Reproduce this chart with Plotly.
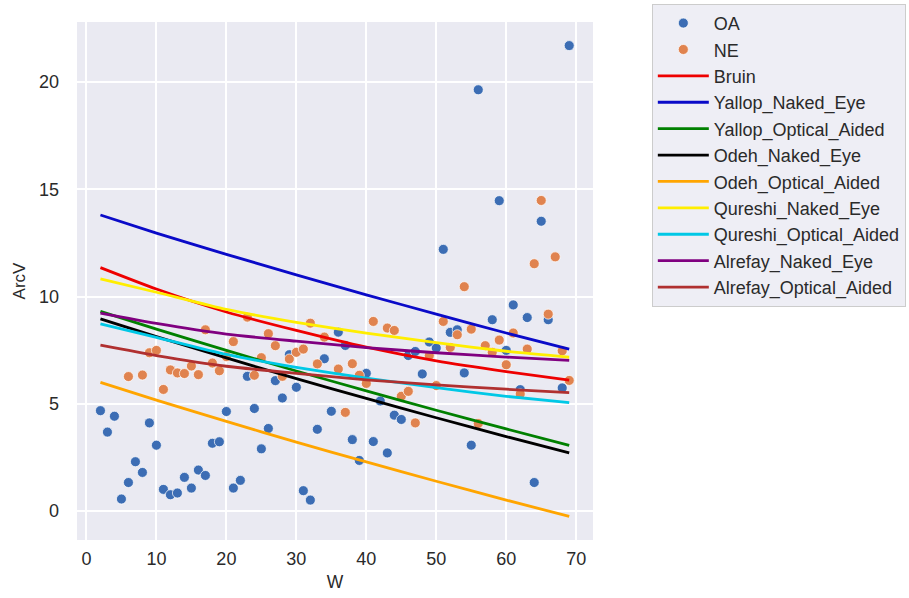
import plotly.graph_objects as go

# ---- scatter data (W, ArcV) ----
oa_w = [2, 3, 4, 5, 6, 7, 8, 9, 10, 11,
        12, 13, 14, 15, 16, 17, 18, 19, 20, 21,
        22, 23, 24, 25, 26, 27, 28, 29, 30, 31,
        32, 33, 34, 35, 36, 37, 38, 39, 40, 41,
        42, 43, 44, 45, 46, 47, 48, 49, 50, 51,
        52, 53, 54, 55, 56, 58, 59, 60, 61, 62,
        63, 64, 65, 66, 68, 69]
oa_arcv = [4.68, 3.68, 4.42, 0.56, 1.33, 2.30, 1.80, 4.11, 3.07, 1.01,
           0.76, 0.84, 1.57, 1.07, 1.91, 1.66, 3.16, 3.23, 4.64, 1.07,
           1.43, 6.28, 4.78, 2.90, 3.85, 6.08, 5.27, 7.29, 5.77, 0.95,
           0.51, 3.81, 7.10, 4.65, 8.34, 7.72, 3.33, 2.36, 6.42, 3.24,
           5.13, 2.71, 4.47, 4.27, 7.25, 7.44, 6.39, 7.88, 7.60, 12.20,
           8.33, 8.45, 6.44, 3.07, 19.64, 8.92, 14.47, 7.49, 9.61, 5.66,
           9.02, 1.33, 13.51, 8.92, 5.74, 21.70]

ne_w = [6, 8, 9, 10, 11, 12, 13, 14, 15, 16,
        17, 18, 19, 20, 21, 23, 24, 25, 26, 27,
        28, 29, 30, 31, 32, 33, 34, 36, 37, 38,
        39, 40, 41, 43, 44, 45, 46, 47, 49, 50,
        51, 52, 53, 54, 55, 56, 57, 58, 59, 60,
        61, 62, 63, 64, 65, 66, 67, 68, 69]
ne_arcv = [6.27, 6.34, 7.38, 7.49, 5.67, 6.58, 6.44, 6.41, 6.76, 6.36,
           8.45, 6.90, 6.54, 7.20, 7.90, 9.04, 6.33, 7.15, 8.27, 7.71,
           6.28, 7.09, 7.40, 7.55, 8.76, 6.86, 8.11, 6.62, 4.60, 6.87,
           6.33, 5.95, 8.84, 8.53, 8.42, 5.35, 5.58, 4.11, 7.25, 5.85,
           8.84, 7.63, 8.22, 10.46, 8.48, 4.08, 7.71, 7.40, 7.97, 6.82,
           8.30, 5.46, 7.55, 11.53, 14.48, 9.18, 11.85, 7.47, 6.09]

# ---- criterion curves, read at these W values ----
curve_w = [2, 10, 20, 30, 40, 50, 60, 69]
bruin = [11.35, 10.35, 9.28, 8.42, 7.64, 7.00, 6.50, 6.10]
yallop_naked = [13.80, 12.96, 11.97, 11.01, 10.08, 9.18, 8.30, 7.55]
yallop_optical = [9.31, 8.48, 7.49, 6.53, 5.60, 4.70, 3.83, 3.06]
odeh_naked = [8.96, 8.13, 7.14, 6.17, 5.25, 4.35, 3.47, 2.71]
odeh_optical = [6.00, 5.17, 4.18, 3.21, 2.29, 1.39, 0.51, -0.25]
qureshi_naked = [10.82, 10.20, 9.40, 8.80, 8.30, 7.85, 7.45, 7.17]
qureshi_optical = [8.73, 8.10, 7.30, 6.70, 6.20, 5.75, 5.35, 5.05]
alrefay_naked = [9.23, 8.75, 8.25, 7.92, 7.62, 7.38, 7.18, 7.02]
alrefay_optical = [7.73, 7.25, 6.75, 6.42, 6.12, 5.88, 5.68, 5.52]

curves = [
    ("Bruin", bruin, "#EE0000"),
    ("Yallop_Naked_Eye", yallop_naked, "#0A0AC8"),
    ("Yallop_Optical_Aided", yallop_optical, "#008000"),
    ("Odeh_Naked_Eye", odeh_naked, "#000000"),
    ("Odeh_Optical_Aided", odeh_optical, "#FFA500"),
    ("Qureshi_Naked_Eye", qureshi_naked, "#FFEE00"),
    ("Qureshi_Optical_Aided", qureshi_optical, "#00C8E6"),
    ("Alrefay_Naked_Eye", alrefay_naked, "#800080"),
    ("Alrefay_Optical_Aided", alrefay_optical, "#B03030"),
]

FONT = "Liberation Sans, Arial, sans-serif"
TXT = "#2a2a2a"

fig = go.Figure()
fig.add_trace(go.Scatter(
    x=oa_w, y=oa_arcv, mode="markers", name="OA",
    marker=dict(color="#3C6DB4", size=10, line=dict(color="white", width=0.7)),
))
fig.add_trace(go.Scatter(
    x=ne_w, y=ne_arcv, mode="markers", name="NE",
    marker=dict(color="#E0834F", size=10, line=dict(color="white", width=0.7)),
))
for name, vals, col in curves:
    fig.add_trace(go.Scatter(
        x=curve_w, y=vals, mode="lines", name=name,
        line=dict(color=col, width=2.8, shape="spline", smoothing=0.6),
    ))

fig.update_layout(
    width=909, height=598,
    margin=dict(l=77, r=316, t=22, b=58, autoexpand=False),
    paper_bgcolor="white",
    plot_bgcolor="#EAEAF2",
    font=dict(family=FONT, size=18, color=TXT),
    showlegend=True,
    legend=dict(
        x=1.114, y=1.035, xanchor="left", yanchor="top",
        bgcolor="rgba(238,238,245,1)",
        bordercolor="#CCCCCC", borderwidth=1,
        font=dict(family=FONT, size=18, color=TXT),
        itemwidth=51,
        tracegroupgap=0,
        maxheight=500,
    ),
)
fig.update_xaxes(
    range=[-1.35, 72.4],
    tickvals=[0, 10, 20, 30, 40, 50, 60, 70],
    showgrid=True, gridcolor="white", gridwidth=1.5,
    zeroline=False, showline=False,
    ticks="", ticklabelstandoff=6,
    title=dict(text="W", font=dict(family=FONT, size=17.5, color=TXT), standoff=7),
)
fig.update_yaxes(
    range=[-1.35, 22.8],
    tickvals=[0, 5, 10, 15, 20],
    showgrid=True, gridcolor="white", gridwidth=1.5,
    zeroline=False, showline=False,
    ticks="", ticklabelstandoff=17,
    title=dict(text="ArcV", font=dict(family=FONT, size=17, color=TXT), standoff=9),
)

fig.write_html("out.html")
